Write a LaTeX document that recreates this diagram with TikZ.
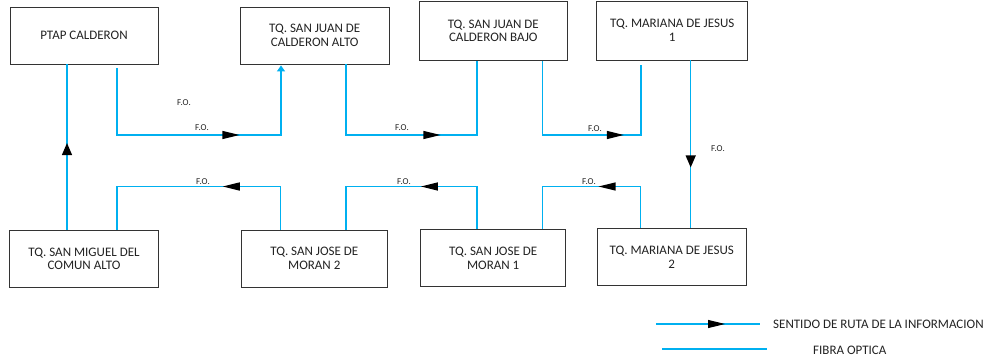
\documentclass[tikz,border=0pt]{standalone}
\usepackage{fontspec}
\setmainfont{Carlito}
\usetikzlibrary{arrows.meta,decorations.markings}
\definecolor{fib}{RGB}{0,176,240}
\definecolor{txt}{RGB}{34,34,34}
\begin{document}
\begin{tikzpicture}[x=1pt,y=-1pt,
  box/.style={draw=black!80, line width=0.9pt, inner sep=0pt, minimum height=57pt,
    align=center, text=txt, font=\fontsize{13}{13.5}\selectfont},
  fiber/.style={draw=fib, line width=1.3pt},
  lbl/.style={text=txt, font=\fontsize{9}{10}\selectfont, inner sep=0pt},
  legtext/.style={text=txt, font=\fontsize{13}{13.5}\selectfont, inner sep=0pt, anchor=west},
  marr/.style n args={3}{postaction={decorate,decoration={markings,
    mark=at position #1 with {\arrow[black]{Triangle[length=#2,width=#3]}}}}}
]
\useasboundingbox (0,0) rectangle (988,361);

% boxes
\node[box, minimum width=148pt] (b1) at (84,35.5) {PTAP CALDERON};
\node[box, minimum width=148.5pt] (b2) at (314.7,35.5) {TQ. SAN JUAN DE\\CALDERON ALTO};
\node[box, minimum width=148.7pt, minimum height=59pt] (b3) at (493.3,31) {TQ. SAN JUAN DE\\CALDERON BAJO};
\node[box, minimum width=151pt, minimum height=59pt] (b4) at (672.2,30.5) {TQ. MARIANA DE JESUS\\1};
\node[box, minimum width=148.7pt] (b5) at (671.7,257.3) {TQ. MARIANA DE JESUS\\2};
\node[box, minimum width=149.4pt] (b6) at (84,259) {TQ. SAN MIGUEL DEL\\COMUN ALTO};
\node[box, minimum width=146.7pt] (b7) at (314.3,258.5) {TQ. SAN JOSE DE\\MORAN 2};
\node[box, minimum width=145pt] (b8) at (493.2,258.3) {TQ. SAN JOSE DE\\MORAN 1};

% rows of the horizontal runs
\coordinate (r1) at (0,135);
\coordinate (r2) at (0,186.5);

% connection points
\coordinate (p1) at ([xshift=33pt]b1.south);
\coordinate (p2in) at ([xshift=-33.7pt]b2.south);
\coordinate (p2out) at ([xshift=31.3pt]b2.south);
\coordinate (p3in) at ([xshift=-16.3pt]b3.south);
\coordinate (p3out) at ([xshift=49.5pt]b3.south);
\coordinate (p4in) at ([xshift=-31.2pt]b4.south);
\coordinate (p4out) at ([xshift=18.5pt]b4.south);
\coordinate (p5in) at ([xshift=19pt]b5.north);
\coordinate (p5out) at ([xshift=-31pt]b5.north);
\coordinate (p8in) at ([xshift=49.5pt]b8.north);
\coordinate (p8out) at ([xshift=-16.2pt]b8.north);
\coordinate (p7in) at ([xshift=31.7pt]b7.north);
\coordinate (p7out) at ([xshift=-33.6pt]b7.north);
\coordinate (p6in) at ([xshift=33pt]b6.north);
\coordinate (p6out) at ([xshift=-17pt]b6.north);
\coordinate (p1in) at ([xshift=-17pt]b1.south);

% connectors
\draw[fiber, marr={87pt}{12pt}{10pt}] (p6out) -- (p1in);
\draw[fiber, -{Triangle[length=6pt,width=8pt]}, marr={189pt}{17pt}{8pt}]
  ([yshift=-4pt]p1) |- (r1 -| p2in) -- ([yshift=-1pt]p2in);
\draw[fiber, marr={165pt}{17pt}{8pt}] (p2out) |- (r1 -| p3in) -- (p3in);
\draw[fiber, marr={155pt}{17pt}{8pt}] (p3out) |- (r1 -| p4in) -- ([yshift=-5pt]p4in);
\draw[fiber, marr={107pt}{12pt}{10pt}] (p4out) -- (p5in);
\draw[fiber, marr={84pt}{17pt}{8pt}] (p5out) |- (r2 -| p8in) -- (p8in);
\draw[fiber, marr={99pt}{17pt}{8pt}] (p8out) |- (r2 -| p7in) -- (p7in);
\draw[fiber, marr={101pt}{17pt}{8pt}] (p7out) |- (r2 -| p6in) -- (p6in);

% labels
\node[lbl] (f0) at (184,103) {F.O.};
\node[lbl] (f1) at (202,128) {F.O.};
\node[lbl] (f2) at (402,128) {F.O.};
\node[lbl] (f3) at (595,129) {F.O.};
\node[lbl] (f4) at (718,149) {F.O.};
\node[lbl] (f5) at (589,181.5) {F.O.};
\node[lbl] (f6) at (404,182) {F.O.};
\node[lbl] (f7) at (203,182) {F.O.};

% legend
\node[legtext] (l1) at (773,324) {SENTIDO DE RUTA DE LA INFORMACION};
\node[legtext] (l2) at (813,350) {FIBRA OPTICA};
\coordinate (l1a) at (656,324);
\coordinate (l1b) at (760,324);
\coordinate (l2a) at (662,349);
\coordinate (l2b) at (767,349);
\draw[fiber, line width=1.1pt, marr={69pt}{17pt}{8pt}] (l1a) -- (l1b);
\draw[fiber, line width=1.1pt] (l2a) -- (l2b);
\end{tikzpicture}
\end{document}
